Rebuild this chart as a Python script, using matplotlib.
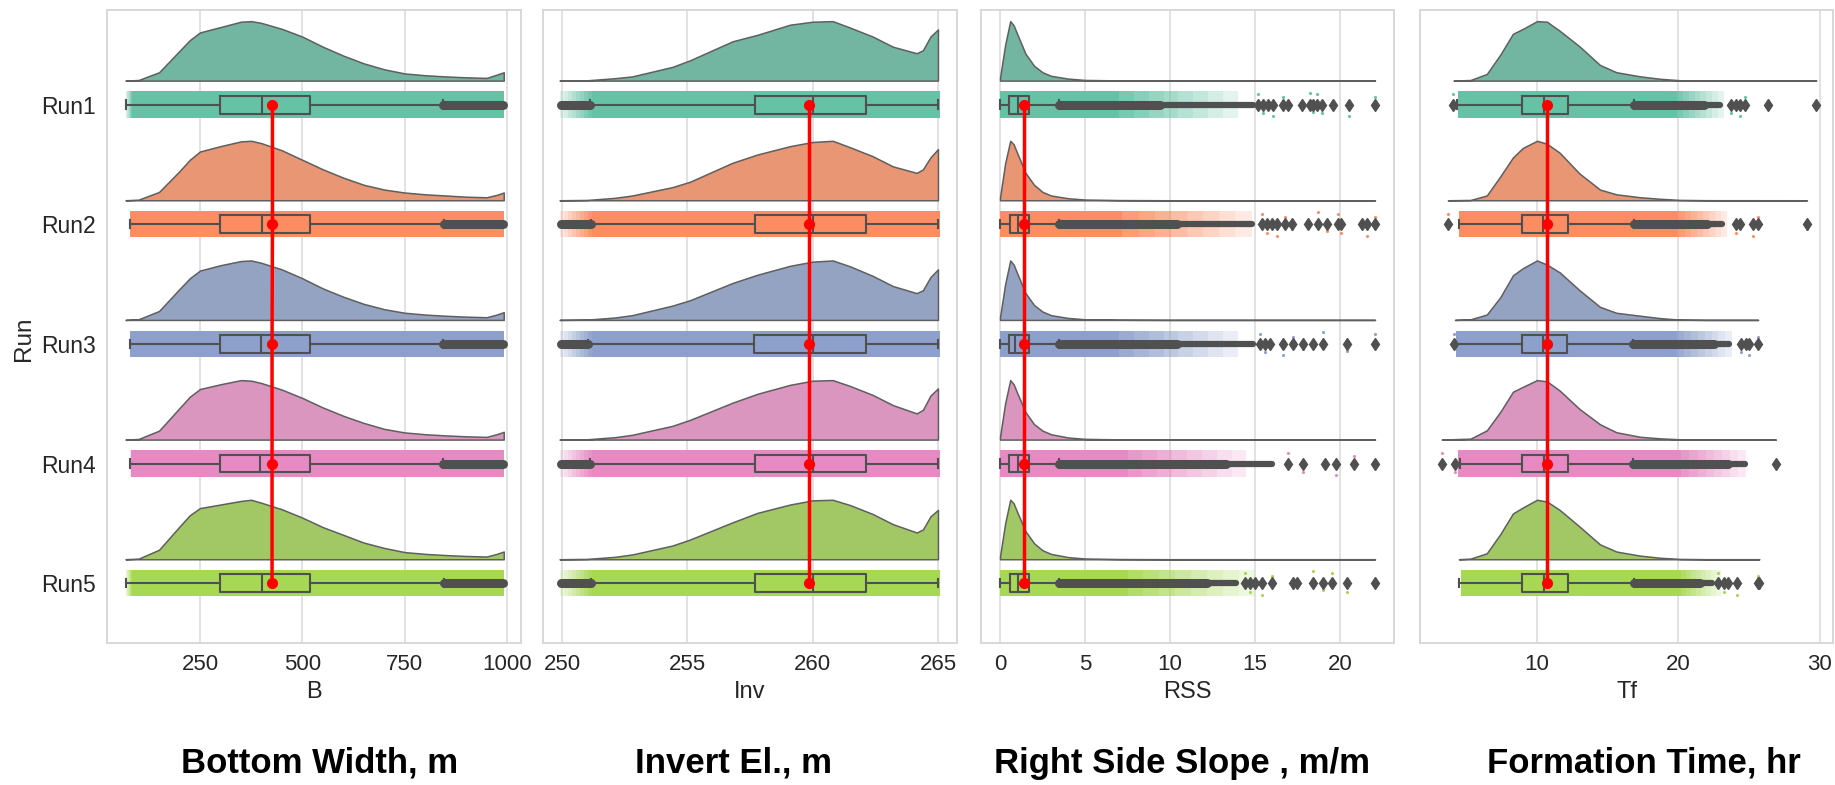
import colorsys
import matplotlib
matplotlib.use("Agg")
import matplotlib.pyplot as plt
import matplotlib.colors as mcolors

plt.rcParams['font.family'] = ['Liberation Sans', 'DejaVu Sans']

RUNS = ["Run1", "Run2", "Run3", "Run4", "Run5"]
SET2 = ["#66c2a5", "#fc8d62", "#8da0cb", "#e78ac3", "#a6d854"]

# ---------------- Bottom width (B) ----------------
b_grid = [68, 100, 150, 200, 225, 250, 300, 350, 375, 400, 450, 500, 550, 600,
          650, 700, 750, 800, 850, 900, 950, 975, 992]
b_kde = [
    [0.0, 0.01, 0.14, 0.50, 0.68, 0.81, 0.90, 0.99, 1.00, 0.97, 0.87, 0.74, 0.57, 0.42, 0.29, 0.19, 0.12, 0.09, 0.07, 0.055, 0.045, 0.10, 0.14],
    [0.0, 0.01, 0.14, 0.49, 0.68, 0.82, 0.91, 0.99, 1.00, 0.96, 0.84, 0.68, 0.52, 0.38, 0.26, 0.18, 0.13, 0.10, 0.08, 0.06, 0.05, 0.09, 0.13],
    [0.0, 0.01, 0.15, 0.52, 0.70, 0.83, 0.92, 0.99, 1.00, 0.96, 0.85, 0.70, 0.53, 0.39, 0.27, 0.18, 0.12, 0.09, 0.07, 0.055, 0.045, 0.09, 0.13],
    [0.0, 0.01, 0.15, 0.53, 0.72, 0.85, 0.93, 1.00, 0.99, 0.95, 0.84, 0.70, 0.54, 0.40, 0.28, 0.18, 0.12, 0.09, 0.07, 0.055, 0.045, 0.09, 0.13],
    [0.0, 0.01, 0.16, 0.55, 0.74, 0.86, 0.92, 0.98, 1.00, 0.95, 0.84, 0.70, 0.54, 0.41, 0.28, 0.19, 0.12, 0.09, 0.07, 0.055, 0.045, 0.09, 0.13],
]
b_whislo = [68, 80, 80, 80, 68]
b_q1 = [300, 300, 299, 298, 298]
b_med = [401, 401, 400, 396, 401]
b_q3 = [518, 519, 518, 518, 518]
b_whishi = [843, 846, 843, 843, 845]
b_mean = [427, 427, 426, 426, 426]
b_max = [992, 992, 992, 992, 992]
b_strip_lo = [84, 80, 80, 82, 84]

# ---------------- Invert elevation (Inv) ----------------
inv_grid = [249.9, 251.0, 252.1, 252.8, 254.4, 255.1, 256.8, 257.8, 259.1,
            260.0, 260.8, 261.5, 262.4, 263.2, 264.15, 264.4, 264.7, 265.0]
inv_kde = [
    [0, 0.005, 0.04, 0.07, 0.23, 0.34, 0.66, 0.77, 0.94, 0.99, 1.00, 0.89, 0.74, 0.57, 0.46, 0.51, 0.74, 0.86],
    [0, 0.005, 0.04, 0.08, 0.22, 0.31, 0.63, 0.77, 0.91, 0.98, 1.00, 0.89, 0.74, 0.57, 0.46, 0.52, 0.72, 0.86],
    [0, 0.005, 0.04, 0.08, 0.24, 0.33, 0.62, 0.76, 0.91, 0.98, 1.00, 0.90, 0.74, 0.57, 0.45, 0.50, 0.72, 0.85],
    [0, 0.005, 0.04, 0.08, 0.23, 0.33, 0.62, 0.77, 0.92, 0.99, 1.00, 0.90, 0.75, 0.58, 0.44, 0.50, 0.74, 0.86],
    [0, 0.005, 0.04, 0.08, 0.23, 0.33, 0.62, 0.78, 0.92, 0.99, 1.00, 0.91, 0.76, 0.59, 0.45, 0.50, 0.72, 0.83],
]
inv_whislo = [251.1, 251.15, 251.05, 251.1, 251.15]
inv_q1 = [257.7, 257.7, 257.65, 257.7, 257.7]
inv_med = [260.0, 260.0, 260.0, 260.0, 260.0]
inv_q3 = [262.13, 262.13, 262.12, 262.13, 262.13]
inv_whishi = [265.0, 265.0, 265.0, 265.0, 265.0]
inv_mean = [259.84, 259.84, 259.84, 259.84, 259.84]
inv_min = [249.9, 249.9, 249.9, 249.9, 249.9]
inv_strip_hi = [265.1, 265.1, 265.1, 265.1, 265.1]

# ---------------- Right side slope (RSS) ----------------
rss_grid = [0, 0.3, 0.6, 0.8, 1.0, 1.5, 2.0, 2.5, 3.0, 4.0, 5.0, 7.0, 10.0, 22.06]
rss_kde = [
    [0.05, 0.60, 1.00, 0.93, 0.79, 0.45, 0.25, 0.14, 0.08, 0.034, 0.011, 0.003, 0.0, 0.0],
    [0.05, 0.62, 1.00, 0.94, 0.80, 0.46, 0.26, 0.14, 0.08, 0.034, 0.012, 0.003, 0.0, 0.0],
    [0.05, 0.60, 1.00, 0.93, 0.79, 0.45, 0.25, 0.14, 0.08, 0.033, 0.011, 0.003, 0.0, 0.0],
    [0.05, 0.61, 1.00, 0.93, 0.79, 0.46, 0.26, 0.15, 0.09, 0.035, 0.012, 0.003, 0.0, 0.0],
    [0.05, 0.60, 1.00, 0.94, 0.80, 0.47, 0.27, 0.15, 0.09, 0.036, 0.012, 0.003, 0.0, 0.0],
]
rss_whislo = [0.0, 0.0, 0.0, 0.0, 0.0]
rss_q1 = [0.55, 0.59, 0.55, 0.55, 0.57]
rss_med = [1.08, 1.08, 0.9, 1.08, 1.05]
rss_q3 = [1.73, 1.73, 1.73, 1.73, 1.73]
rss_whishi = [3.47, 3.47, 3.47, 3.47, 3.47]
rss_mean = [1.41, 1.41, 1.41, 1.41, 1.41]
rss_dense_end = [9.4, 10.4, 10.4, 13.3, 12.2]
rss_chain_end = [14.9, 14.8, 14.9, 16.0, 13.9]
rss_fliers = [
    [15.2, 15.49, 15.78, 16.08, 16.67, 16.96, 17.75, 18.24, 18.43, 18.63, 18.92, 19.57, 20.55, 22.06],
    [15.39, 15.69, 15.98, 16.27, 16.76, 17.16, 18.14, 18.73, 19.22, 19.9, 20.06, 21.27, 21.57, 22.06],
    [15.29, 15.59, 15.9, 16.67, 17.25, 17.84, 18.43, 19.02, 20.39, 22.06],
    [16.96, 17.84, 19.12, 19.76, 20.84, 22.06],
    [14.41, 14.71, 15.0, 15.39, 15.98, 17.25, 17.45, 18.39, 19.02, 19.51, 20.39, 22.06],
]
rss_strip_dense = [7.0, 7.2, 7.0, 7.5, 7.5]
rss_strip_semi = [14.0, 14.8, 14.0, 14.5, 15.0]

# ---------------- Formation time (Tf) ----------------
tf_grid = [4.1, 5.3, 6.45, 7.4, 8.3, 9.0, 10.0, 10.7, 11.6, 13.0, 14.45,
           15.6, 17.3, 18.7, 20.1, 22.0]
tf_kde = [
    [0, 0.01, 0.11, 0.43, 0.78, 0.86, 0.99, 0.98, 0.83, 0.57, 0.26, 0.14, 0.07, 0.03, 0.006, 0.001],
    [0, 0.005, 0.08, 0.40, 0.72, 0.88, 1.00, 0.95, 0.80, 0.45, 0.18, 0.10, 0.05, 0.025, 0.006, 0.001],
    [0, 0.01, 0.09, 0.38, 0.75, 0.87, 1.00, 0.93, 0.80, 0.50, 0.22, 0.12, 0.07, 0.03, 0.005, 0.0],
    [0, 0.015, 0.15, 0.45, 0.78, 0.86, 0.97, 0.95, 0.80, 0.50, 0.25, 0.12, 0.045, 0.02, 0.005, 0.0],
    [0, 0.01, 0.10, 0.42, 0.77, 0.87, 1.00, 0.97, 0.83, 0.55, 0.25, 0.13, 0.06, 0.025, 0.005, 0.0],
]
tf_min = [4.1, 3.7, 4.2, 3.27, 4.48]
tf_max = [29.74, 29.08, 25.62, 26.86, 25.7]
tf_whislo = [4.33, 4.48, 4.2, 4.57, 4.48]
tf_q1 = [8.94, 8.94, 8.96, 8.94, 8.94]
tf_med = [10.5, 10.4, 10.45, 10.5, 10.5]
tf_q3 = [12.2, 12.2, 12.1, 12.17, 12.2]
tf_whishi = [16.85, 16.85, 16.8, 16.8, 16.85]
tf_mean = [10.72, 10.72, 10.72, 10.72, 10.72]
tf_dense_end = [21.8, 22.0, 22.5, 23.5, 21.5]
tf_chain_end = [22.9, 23.1, 23.6, 24.7, 22.4]
tf_fliers_lo = [[4.09], [3.73], [4.1], [3.27, 4.21], []]
tf_fliers_hi = [
    [23.74, 24.09, 24.33, 24.68, 26.33, 29.74],
    [24.09, 24.33, 25.27, 25.62, 29.08],
    [24.45, 24.8, 24.99, 25.62],
    [26.86],
    [22.8, 23.2, 23.5, 24.1, 25.6, 25.7],
]
tf_strip_lo = [4.4, 4.5, 4.3, 4.4, 4.6]
tf_strip_dense = [19.9, 20.0, 19.9, 20.2, 20.2]
tf_strip_semi = [23.2, 23.4, 23.8, 24.8, 23.0]

TITLES = ["Bottom Width, m", "Invert El., m", "Right Side Slope , m/m", "Formation Time, hr"]
XLABELS = ["B", "Inv", "RSS", "Tf"]

# ---------------- style ----------------
GRAY = "#505050"
JIT = [-0.085, 0.07, -0.03, 0.095, -0.06, 0.04, 0.0, -0.1, 0.06]
VIO_OFF = 0.2     # violin baseline above box centre
VIO_H = 0.497     # violin max height
STRIP_W = 0.11
THICK, MEDIUM = 6.5, 4.5
FADE_STEPS = 8


def desat(c, prop=0.75):
    r, g, b = mcolors.to_rgb(c)
    h, l, s = colorsys.rgb_to_hls(r, g, b)
    return colorsys.hls_to_rgb(h, l, s * prop)


def raincloud(ax, p):
    stats = []
    for i in range(5):
        col = SET2[i]
        # half violin (cloud)
        xs, d = p["xs"][i], p["kde"][i]
        dmax = max(d)
        base = i - VIO_OFF
        top = [base - VIO_H * v / dmax for v in d]
        ax.fill_between(xs, base, top, facecolor=desat(col), edgecolor="#5f5f5f",
                        lw=1.1, zorder=2)
        # rain: dense strip band, then a fading part where points thin out
        lo, hi = p["full"][i]
        ax.fill_between([lo, hi], i - STRIP_W, i + STRIP_W, facecolor=col, lw=0, zorder=3)
        a0, a1 = p["thin"][i]
        for j in range(FADE_STEPS):
            x0 = a0 + (a1 - a0) * j / FADE_STEPS
            x1 = a0 + (a1 - a0) * (j + 1) / FADE_STEPS
            ax.fill_between([x0, x1], i - STRIP_W, i + STRIP_W, facecolor=col,
                            alpha=p["fade"] * (1 - j / FADE_STEPS) + 0.08, lw=0, zorder=3)
        dots = p["dots"][i]
        ax.scatter(dots, [i + JIT[k % len(JIT)] for k in range(len(dots))],
                   s=5, color=col, lw=0, zorder=3)
        # dense flier runs
        for x0, x1, lw in p["bars"][i]:
            ax.plot([x0, x1], [i, i], color=GRAY, lw=lw, solid_capstyle="round", zorder=5)
        stats.append(dict(med=p["med"][i], q1=p["q1"][i], q3=p["q3"][i],
                          whislo=p["whislo"][i], whishi=p["whishi"][i],
                          fliers=p["fliers"][i]))
    ax.bxp(stats, positions=range(5), widths=0.15, capwidths=0.07,
           orientation="horizontal", manage_ticks=False, patch_artist=False,
           boxprops=dict(color=GRAY, lw=1.5),
           medianprops=dict(color=GRAY, lw=1.5),
           whiskerprops=dict(color=GRAY, lw=1.5),
           capprops=dict(color=GRAY, lw=1.5),
           flierprops=dict(marker="d", markerfacecolor=GRAY, markeredgecolor=GRAY,
                           markersize=6, linestyle="none"),
           zorder=6)
    ax.plot(p["mean"], range(5), color="red", lw=2.5, marker="o", ms=7, zorder=10)


panels = []
panels.append(dict(
    xs=[b_grid] * 5, kde=b_kde,
    full=[(b_strip_lo[i], b_max[i]) for i in range(5)],
    thin=[(b_strip_lo[i], b_whislo[i]) for i in range(5)], fade=0.8,
    dots=[[] for _ in range(5)],
    bars=[[(b_whishi[i], b_max[i] - 1, THICK)] for i in range(5)],
    med=b_med, q1=b_q1, q3=b_q3, whislo=b_whislo, whishi=b_whishi,
    fliers=[[] for _ in range(5)], mean=b_mean,
    xlim=(22.8, 1034.2), ticks=[250, 500, 750, 1000]))
panels.append(dict(
    xs=[inv_grid] * 5, kde=inv_kde,
    full=[(251.2, inv_strip_hi[i]) for i in range(5)],
    thin=[(251.2, inv_min[i]) for i in range(5)], fade=0.85,
    dots=[[] for _ in range(5)],
    bars=[[(inv_min[i] + 0.05, inv_whislo[i], THICK)] for i in range(5)],
    med=inv_med, q1=inv_q1, q3=inv_q3, whislo=inv_whislo, whishi=inv_whishi,
    fliers=[[] for _ in range(5)], mean=inv_mean,
    xlim=(249.24, 265.76), ticks=[250, 255, 260, 265]))
panels.append(dict(
    xs=[rss_grid] * 5, kde=rss_kde,
    full=[(0.0, rss_strip_dense[i]) for i in range(5)],
    thin=[(rss_strip_dense[i], rss_strip_semi[i]) for i in range(5)], fade=0.8,
    dots=rss_fliers,
    bars=[[(rss_whishi[i], rss_dense_end[i], THICK),
           (rss_dense_end[i], rss_chain_end[i], MEDIUM)] for i in range(5)],
    med=rss_med, q1=rss_q1, q3=rss_q3, whislo=rss_whislo, whishi=rss_whishi,
    fliers=rss_fliers, mean=rss_mean,
    xlim=(-1.12, 23.18), ticks=[0, 5, 10, 15, 20]))
panels.append(dict(
    xs=[[tf_min[i]] + tf_grid[1:] + [tf_max[i]] for i in range(5)],
    kde=[tf_kde[i] + [0.0] for i in range(5)],
    full=[(tf_strip_lo[i], tf_strip_dense[i]) for i in range(5)],
    thin=[(tf_strip_dense[i], tf_strip_semi[i]) for i in range(5)], fade=0.8,
    dots=[tf_fliers_lo[i] + tf_fliers_hi[i] for i in range(5)],
    bars=[[(tf_whishi[i], tf_dense_end[i], THICK),
           (tf_dense_end[i], tf_chain_end[i], MEDIUM)] for i in range(5)],
    med=tf_med, q1=tf_q1, q3=tf_q3, whislo=tf_whislo, whishi=tf_whishi,
    fliers=[tf_fliers_lo[i] + tf_fliers_hi[i] for i in range(5)], mean=tf_mean,
    xlim=(1.73, 30.92), ticks=[10, 20, 30]))

W, H = 1835, 785
fig = plt.figure(figsize=(W / 100, H / 100), dpi=100)
lefts = [107, 543, 981, 1420]
widths = [414, 414, 413, 413]
title_x = [320, 733, 1182, 1644]

for k, p in enumerate(panels):
    ax = fig.add_axes([lefts[k] / W, 1 - 643 / H, widths[k] / W, 633 / H])
    raincloud(ax, p)
    ax.set_xlim(*p["xlim"])
    ax.set_ylim(4.5, -0.79)
    ax.set_xticks(p["ticks"])
    ax.set_yticks(range(5))
    ax.grid(axis="x", color="#dddddd", lw=1.2, zorder=0)
    ax.set_axisbelow(True)
    for s in ax.spines.values():
        s.set_color("#d6d6d6")
        s.set_linewidth(1.3)
    ax.tick_params(length=0, labelsize=16, colors="#262626", pad=8)
    ax.set_xlabel(XLABELS[k], fontsize=17, color="#262626", labelpad=4)
    if k == 0:
        ax.set_yticklabels(RUNS, fontsize=16.5)
        ax.set_ylabel("Run", fontsize=17.5, color="#262626")
        ax.yaxis.set_label_coords(-0.175, 0.48)
    else:
        ax.set_yticklabels([])
    fig.text(title_x[k] / W, 1 - 773 / H, TITLES[k], fontsize=25, fontweight="bold",
             ha="center", va="baseline", color="black")

fig.savefig("out.png", dpi=100, facecolor="white")
